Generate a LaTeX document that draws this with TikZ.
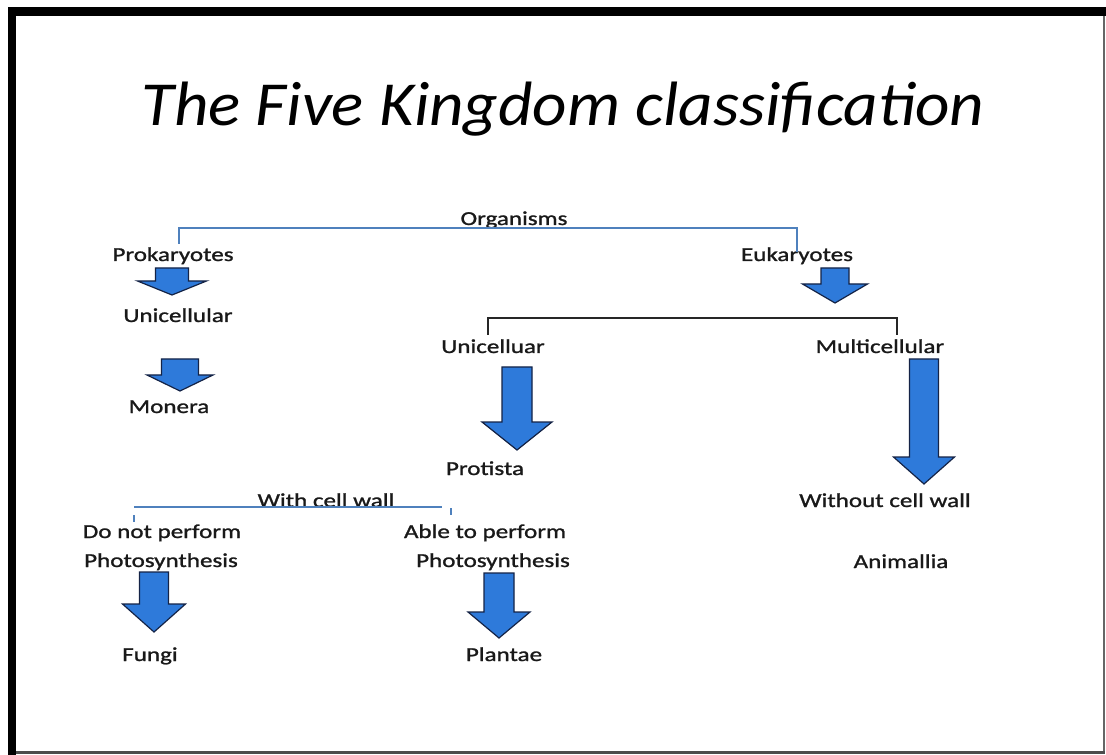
\documentclass[tikz,border=0pt]{standalone}
\usepackage{fontspec}
\setmainfont{Carlito}[FakeStretch=1.27,FakeBold=1.2]
\newfontfamily\titlefont{Carlito}[FakeStretch=1.07]
\definecolor{arrowblue}{RGB}{46,122,218}
\definecolor{arrowedge}{RGB}{20,35,70}
\definecolor{linkblue}{RGB}{79,129,189}
\newcommand{\blockarrow}[6]{% center x, top y, shaft half width, head start y, head half width, tip y
  \filldraw[blockarrow] (#1-#3,#2) -- (#1+#3,#2) -- (#1+#3,#4) -- (#1+#5,#4) -- (#1,#6) -- (#1-#5,#4) -- (#1-#3,#4) -- cycle;}
\begin{document}
\begin{tikzpicture}[x=0.75pt,y=-0.75pt,
  lbl/.style={anchor=base,inner sep=0pt,font=\fontsize{14.8}{18}\selectfont,text=black!90},
  blockarrow/.style={fill=arrowblue,draw=arrowedge,line width=0.9pt,line join=miter},
  bluelink/.style={draw=linkblue,line width=1.2pt},
  blacklink/.style={draw=black!85,line width=0.9pt}]
\useasboundingbox (0,0) rectangle (1106,755);
\fill[white] (0,0) rectangle (1106,755);
% frame
\fill[black] (8,7) rectangle (1106,16);
\fill[black] (8,7) rectangle (16,755);
\fill[black!60] (1103,16) rectangle (1105,754);
\fill[black!70] (16,751) rectangle (1105,754);
% title
\node[anchor=base,inner sep=0pt,font=\titlefont\itshape\fontsize{47}{56}\selectfont] (title) at (563,126) {The Five Kingdom classification};
% labels
\node[lbl] (org) at (514,225) {Organisms};
\node[lbl] (pro) at (173,261) {Prokaryotes};
\node[lbl] (euk) at (797,261) {Eukaryotes};
\node[lbl] (uni1) at (178,322) {Unicellular};
\node[lbl] (mon) at (169,413) {Monera};
\node[lbl] (uni2) at (493,353) {Unicelluar};
\node[lbl] (mul) at (880,353) {Multicellular};
\node[lbl] (prot) at (485,475) {Protista};
\node[lbl] (wcw) at (326,507) {With cell wall};
\node[lbl] (wocw) at (885,507) {Without cell wall};
\node[lbl] (dnp) at (162,538) {Do not perform};
\node[lbl] (ps1) at (161,567) {Photosynthesis};
\node[lbl] (atp) at (485,538) {Able to perform};
\node[lbl] (ps2) at (493,567) {Photosynthesis};
\node[lbl] (ani) at (901,568) {Animallia};
\node[lbl] (fun) at (150,661) {Fungi};
\node[lbl] (pla) at (504,661) {Plantae};
% brackets
\coordinate (orgL) at (179,244);
\coordinate (orgR) at (797,252);
\draw[bluelink] (orgL) -- (179,228) -- (797,228) -- (orgR);
\coordinate (eukL) at (488,335);
\coordinate (eukR) at (897,335);
\draw[blacklink] (eukL) -- (488,318) -- (897,318) -- (eukR);
\coordinate (wL) at (134,507);
\coordinate (wR) at (442,507);
\draw[bluelink] (wL) -- (wR);
\draw[bluelink] (134,515) -- (134,522);
\draw[bluelink] (451,508) -- (451,515);
% block arrows
\blockarrow{172}{268}{16.5}{281}{34.5}{295}
\blockarrow{180}{359}{18.5}{375}{33}{391}
\blockarrow{835}{268}{14}{284}{32.5}{303}
\blockarrow{517}{367}{15}{422}{35}{450}
\blockarrow{924}{359}{14.5}{457}{30.5}{484}
\blockarrow{154}{572}{14.5}{604}{31.5}{632}
\blockarrow{499}{573}{15}{612}{31}{638}
\end{tikzpicture}
\end{document}
